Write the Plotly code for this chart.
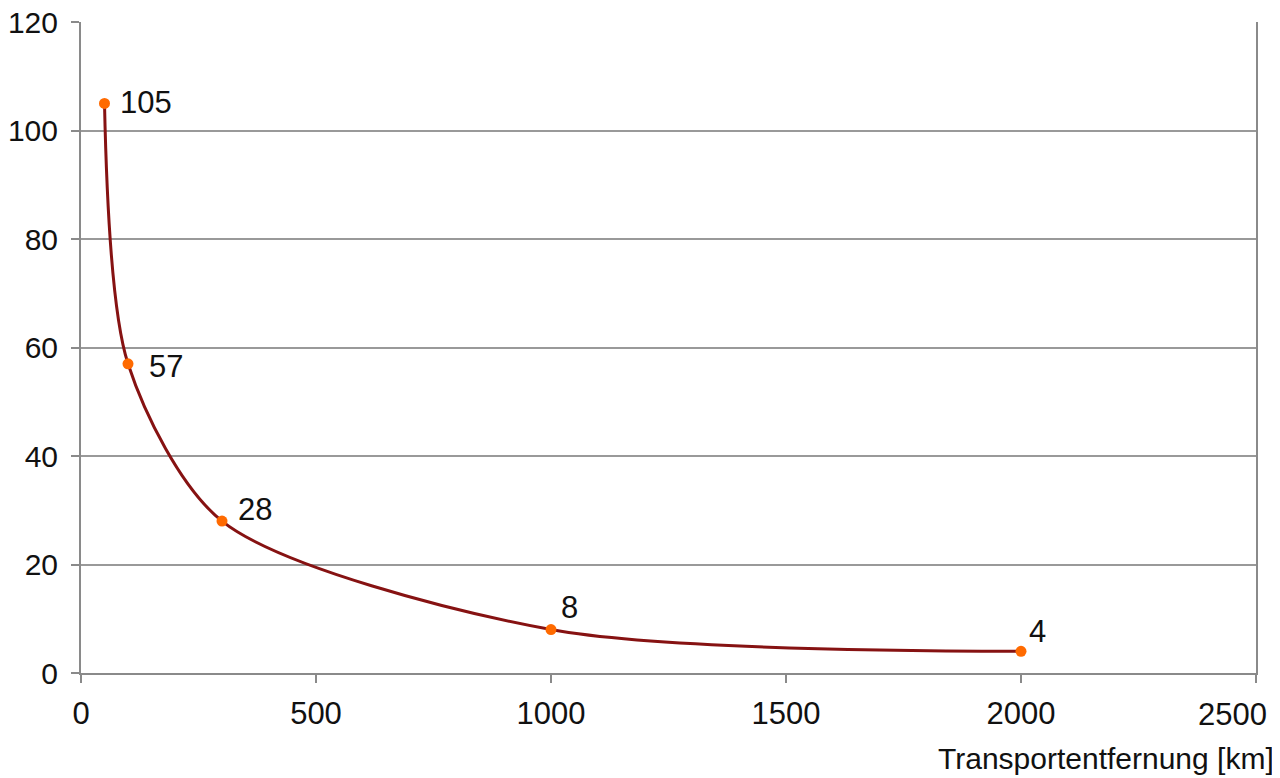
import plotly.graph_objects as go

distance_km = [50, 100, 300, 1000, 2000]
values = [105, 57, 28, 8, 4]
value_labels = ["105", "57", "28", "8", "4"]
# label offsets in pixels (style only)
label_dx = [13, 19, 14, 8, 6]
label_dy = [1, -3, 12, 22, 20]

x_ticks = [0, 500, 1000, 1500, 2000, 2500]
y_ticks = [0, 20, 40, 60, 80, 100, 120]
x_tick_labels = [str(v) for v in x_ticks]

FONT = "Liberation Sans, Arial, sans-serif"
FS = 31

fig = go.Figure()
fig.add_trace(go.Scatter(
    x=distance_km, y=values,
    mode="lines+markers",
    line=dict(color="#861212", width=3, shape="spline", smoothing=0.8),
    marker=dict(color="#FF6A00", size=11, symbol="circle"),
    cliponaxis=False,
    showlegend=False,
))

annotations = []
for xv, yv, t, dx, dy in zip(distance_km, values, value_labels, label_dx, label_dy):
    annotations.append(dict(
        x=xv, y=yv, text=t, xref="x", yref="y",
        xanchor="left", yanchor="middle", xshift=dx, yshift=dy,
        showarrow=False, font=dict(family=FONT, size=FS, color="#111111"),
    ))
# last x tick label, right-aligned so it stays inside the picture
annotations.append(dict(
    x=x_ticks[-1], y=0, xref="x", yref="paper", text=x_tick_labels[-1],
    xanchor="right", yanchor="middle", xshift=13, yshift=-41,
    showarrow=False, font=dict(family=FONT, size=FS, color="#111111"),
))
annotations.append(dict(
    text="Transportentfernung [km]",
    xref="paper", yref="paper", x=1, y=0,
    xanchor="right", yanchor="middle",
    xshift=20, yshift=-85,
    showarrow=False,
    font=dict(family=FONT, size=30, color="#111111"),
))

fig.update_layout(
    width=1272, height=770,
    margin=dict(l=73, r=24, t=14, b=105),
    paper_bgcolor="white", plot_bgcolor="white",
    font=dict(family=FONT, size=FS, color="#111111"),
    xaxis=dict(
        range=[0, 2500], tickvals=x_ticks,
        ticktext=x_tick_labels[:-1] + [""],
        showgrid=False, zeroline=False, automargin=False,
        ticklabeloverflow="allow",
        showline=True, linecolor="#8a8a8a", linewidth=2,
        ticks="outside", ticklen=8, tickcolor="#8a8a8a", tickwidth=2,
        ticklabelstandoff=4,
    ),
    yaxis=dict(
        range=[0, 120], tickvals=y_ticks,
        showgrid=True, gridcolor="#999999", gridwidth=2,
        zeroline=False, automargin=False,
        ticklabeloverflow="allow",
        tickfont=dict(family=FONT, size=30, color="#111111"),
        showline=True, mirror=True, linecolor="#8a8a8a", linewidth=2,
        ticks="outside", ticklen=8, tickcolor="#8a8a8a", tickwidth=2,
        ticklabelstandoff=7,
    ),
    annotations=annotations,
)

fig.write_html("out.html")
